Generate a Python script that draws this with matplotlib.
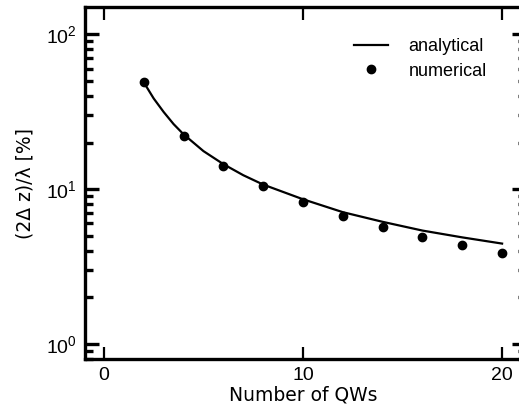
import numpy as np
import matplotlib
matplotlib.use('Agg')
from matplotlib import pyplot as plt
from matplotlib.ticker import LogLocator, NullFormatter

plt.rcParams['font.family'] = ['Liberation Sans', 'DejaVu Sans']
plt.rcParams['mathtext.fontset'] = 'custom'
plt.rcParams['mathtext.rm'] = 'Liberation Sans'
plt.rcParams['mathtext.it'] = 'Liberation Sans'

# numerical results
n_num = [2, 4, 6, 8, 10, 12, 14, 16, 18, 20]
dz_num = [49.0, 21.9, 14.2, 10.4, 8.27, 6.68, 5.68, 4.92, 4.35, 3.89]

# analytical curve
n_ana = [2, 2.5, 3, 3.5, 4, 5, 6, 7, 8, 10, 12, 14, 16, 18, 20]
dz_ana = [49.0, 38.5, 31.5, 26.3, 22.6, 17.6, 14.5, 12.3, 10.7, 8.6, 7.1, 6.15, 5.4, 4.88, 4.45]

fig = plt.figure(figsize=(5.19, 4.11), dpi=100)
ax = fig.add_axes([85 / 519, 52 / 411, (522 - 85) / 519, (359 - 7) / 411])

ax.plot(n_ana, dz_ana, 'k-', lw=1.6, label='analytical')
ax.plot(n_num, dz_num, 'k.', ls='none', marker='o', ms=6, label='numerical')

ax.set_yscale('log')
ax.set_xlim(-0.95, 21)
ax.set_ylim(0.8, 150)
ax.set_xticks([0, 10, 20])
ax.yaxis.set_major_locator(LogLocator(base=10))
ax.yaxis.set_minor_locator(LogLocator(base=10, subs=np.arange(2, 10)))
ax.yaxis.set_minor_formatter(NullFormatter())

for s in ['left', 'bottom', 'top']:
    ax.spines[s].set_linewidth(2.4)
ax.spines['right'].set_visible(False)

ax.tick_params(axis='x', which='major', direction='in', top=True, bottom=True,
               length=9, width=1.6, labelsize=14, pad=6)
ax.tick_params(axis='y', which='major', direction='in', left=True, right=False,
               length=10, width=2.4, labelsize=14, pad=6)
ax.tick_params(axis='y', which='minor', direction='in', left=True, right=False,
               length=6, width=2.4)

# short ticks on the right edge
ax2 = ax.twinx()
ax2.set_yscale('log')
ax2.set_ylim(ax.get_ylim())
ax2.yaxis.set_major_locator(LogLocator(base=10))
ax2.yaxis.set_minor_locator(LogLocator(base=10, subs=np.arange(2, 10)))
ax2.tick_params(axis='y', which='major', direction='in', length=7, width=2.4, labelright=False)
ax2.tick_params(axis='y', which='minor', direction='in', length=3, width=2.4, labelright=False)
for s in ax2.spines.values():
    s.set_visible(False)

ax.set_xlabel('Number of QWs', fontsize=13.5, family='DejaVu Sans', labelpad=1)
ax.set_ylabel('(2Δ z)/λ [%]', fontsize=13.5, family='DejaVu Sans', labelpad=8)

ax.legend(loc='upper right', bbox_to_anchor=(0.952, 0.952), frameon=False,
          fontsize=13, handlelength=1.9, handletextpad=1.1, labelspacing=0.4,
          borderpad=0.3)

fig.savefig('out.png', dpi=100)
